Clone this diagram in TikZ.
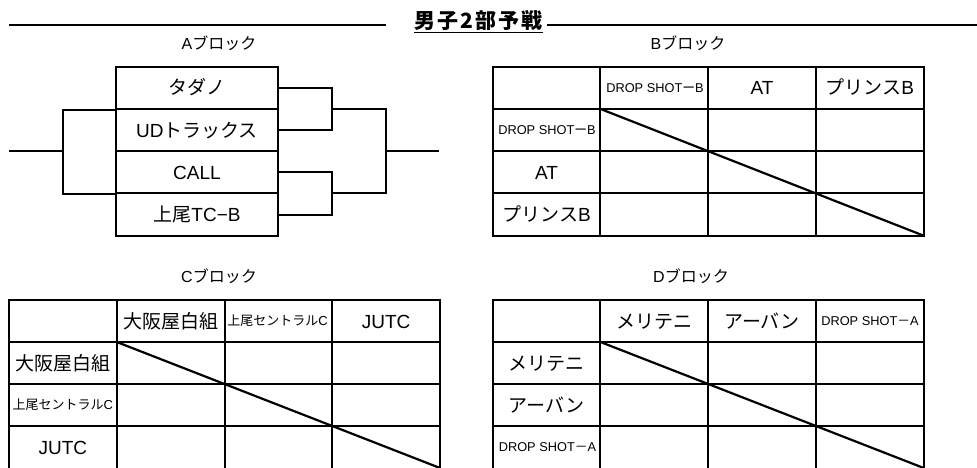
\documentclass[tikz,border=0pt]{standalone}
\usepackage{fontspec}
\setmainfont{Liberation Sans}
\newfontfamily\jp{Noto Sans CJK JP}
\newfontfamily\jpbold{Noto Sans CJK JP}[LetterSpace=10]
\begin{document}
\begin{tikzpicture}[x=1pt,y=-1pt,
  ln/.style={line width=2pt},
  grid/.style={line width=2pt, line cap=rect},
  diag/.style={line width=2.2pt},
  big/.style={inner sep=0pt, font=\fontsize{19}{19}\selectfont, text height=16pt, text depth=2pt},
  sm/.style={inner sep=0pt, font=\fontsize{12.8}{12.8}\selectfont, text height=10.5pt, text depth=1.3pt},
  smj/.style={inner sep=0pt, font=\fontsize{13}{13}\selectfont, text height=10.9pt, text depth=1.3pt},
  lab/.style={inner sep=0pt, font=\fontsize{16}{16}\selectfont, text height=13.4pt, text depth=1.6pt},
  abox/.style={draw, line width=2pt, minimum width=162.6pt, minimum height=42.25pt, inner sep=0pt,
    font=\fontsize{19}{19}\selectfont, text height=16pt, text depth=2pt}]
\useasboundingbox[fill=white] (0,0) rectangle (977,468);

% title
\node[inner sep=0pt, font=\jpbold\bfseries\fontsize{21}{21}\selectfont, text height=18pt, text depth=2pt] (title) at (478.5,21) {男子2部予戦};
\draw[line width=1.5pt] ([yshift=-1.3pt]title.south west) -- ([yshift=-1.3pt]title.south east);
\coordinate (tl0) at (9,25); \coordinate (tl1) at (386,25);
\coordinate (tr0) at (547,25); \coordinate (tr1) at (977,25);
\draw[ln] (tl0) -- (tl1);
\draw[ln] (tr0) -- (tr1);

% block labels
\node[lab] (la) at (219,44) {A{\jp ブロック}};
\node[lab] (lb) at (688,44) {B{\jp ブロック}};
\node[lab] (lc) at (219,277) {C{\jp ブロック}};
\node[lab] (ld) at (691,277) {D{\jp ブロック}};

% A bracket
\node[abox] (a1) at (197,87.825) {\jp タダノ};
\node[abox] (a2) at (197,130.075) {UD{\jp トラックス}};
\node[abox] (a3) at (197,172.325) {CALL};
\node[abox] (a4) at (197,214.575) {{\jp 上尾}TC−B};
\coordinate (ra) at (331.7,108.95);
\coordinate (rb) at (331.7,193.45);
\coordinate (rc) at (385.7,151.2);
\coordinate (rend) at (439.3,151.2);
\coordinate (lcj) at (62.7,151.2);
\coordinate (lend) at (9,151.2);
\draw[ln] (a1.east) -| (ra) |- (a2.east);
\draw[ln] (a3.east) -| (rb) |- (a4.east);
\draw[ln] (ra) -| (rc) |- (rb);
\draw[ln] (rc) -- (rend);
\draw[ln] (a1.south west) -| (lcj) |- (a3.south west);
\draw[ln] (lcj) -- (lend);

% B table
\foreach \i in {0,...,4} \draw[grid] ({492.7+\i*107.75},66.7) -- ({492.7+\i*107.75},235.7);
\foreach \j in {0,...,4} \draw[grid] (492.7,{66.7+\j*42.25}) -- (923.7,{66.7+\j*42.25});
\draw[diag] (600.45,108.95) -- (923.7,235.7);
\node[sm]  (bh1) at (655,87.8) {DROP SHOT{\jp ー}B};
\node[big] (bh2) at (762.1,87.8) {AT};
\node[big] (bh3) at (869.8,87.8) {{\jp プリンス}B};
\node[sm]  (br1) at (547,130.1) {DROP SHOT{\jp ー}B};
\node[big] (br2) at (546.6,172.3) {AT};
\node[big] (br3) at (546.6,214.6) {{\jp プリンス}B};

% C table
\foreach \i in {0,...,4} \draw[grid] ({9+\i*107.75},300) -- ({9+\i*107.75},470);
\foreach \j in {0,...,3} \draw[grid] (9,{300+\j*42}) -- (440,{300+\j*42});
\draw[diag] (116.75,342) -- (440,468);
\node[big] (ch1) at (170.6,321) {\jp 大阪屋白組};
\node[smj] (ch2) at (277.5,321) {{\jp 上尾セントラル}C};
\node[big] (ch3) at (386.1,321) {JUTC};
\node[big] (cr1) at (62.9,363) {\jp 大阪屋白組};
\node[smj] (cr2) at (62.9,405) {{\jp 上尾セントラル}C};
\node[big] (cr3) at (62.9,447) {JUTC};

% D table
\foreach \i in {0,...,4} \draw[grid] ({492.7+\i*107.75},300) -- ({492.7+\i*107.75},470);
\foreach \j in {0,...,3} \draw[grid] (492.7,{300+\j*42}) -- (923.7,{300+\j*42});
\draw[diag] (600.45,342) -- (923.7,468);
\node[big] (dh1) at (654.3,321) {\jp メリテニ};
\node[big] (dh2) at (762.1,321) {\jp アーバン};
\node[sm]  (dh3) at (870,321) {DROP SHOT{\jp －}A};
\node[big] (dr1) at (546.6,363) {\jp メリテニ};
\node[big] (dr2) at (546.6,405) {\jp アーバン};
\node[sm]  (dr3) at (547.5,447) {DROP SHOT{\jp －}A};
\end{tikzpicture}
\end{document}
